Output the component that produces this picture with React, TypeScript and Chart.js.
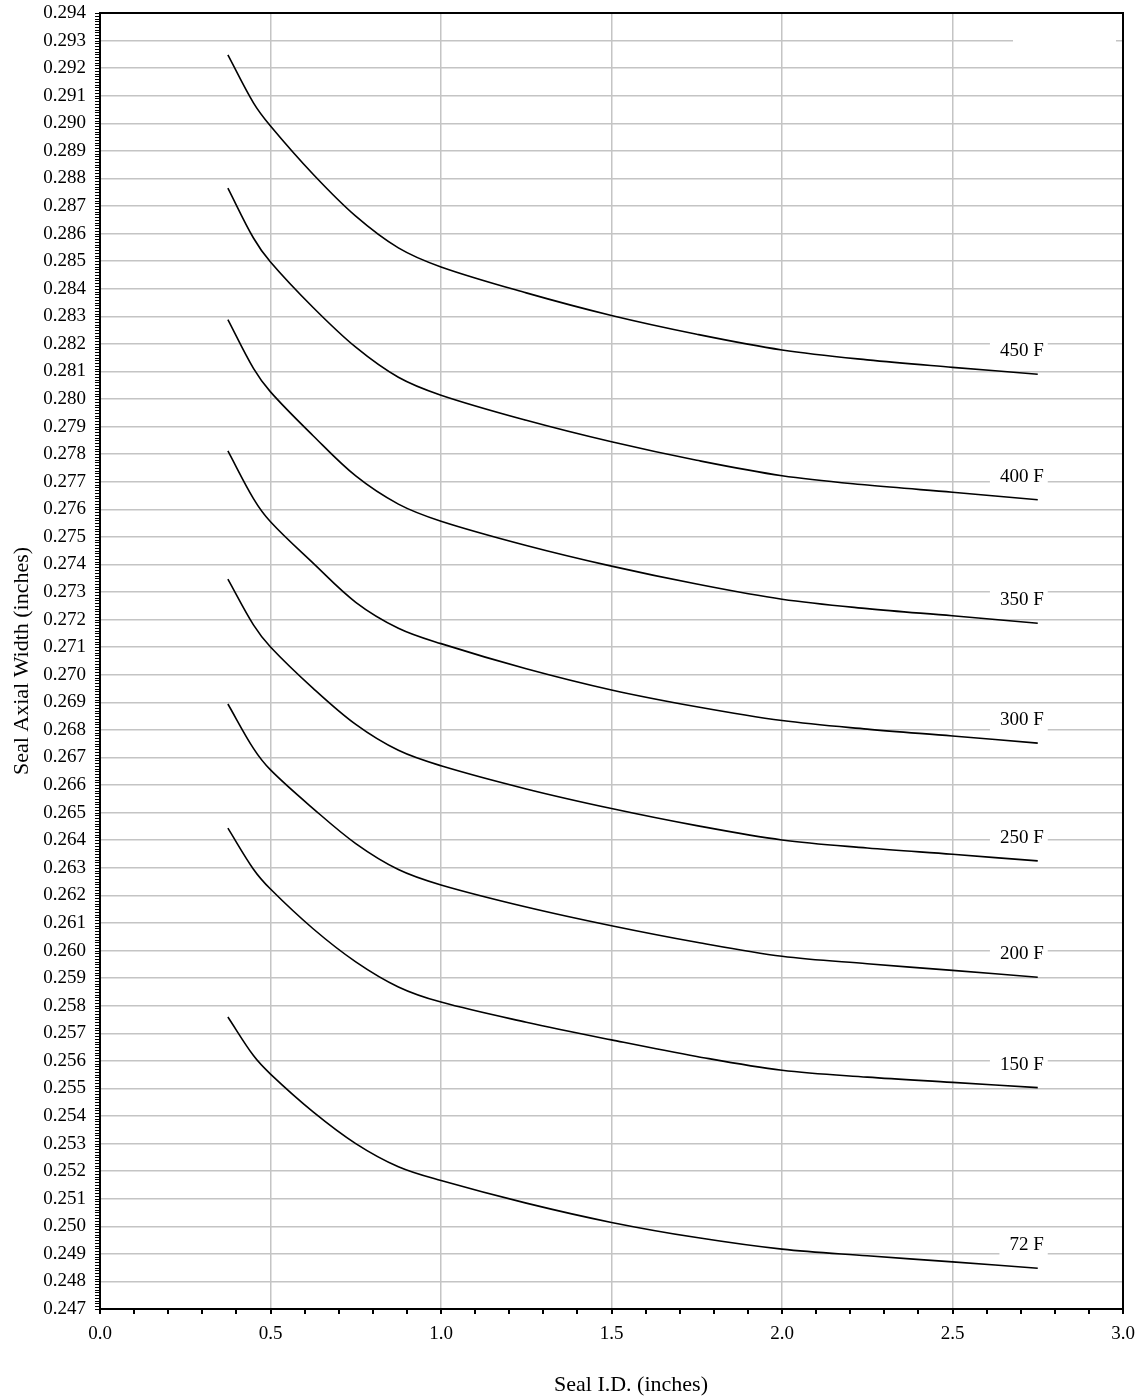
import React, { useEffect, useRef } from 'react';
import { Chart, registerables } from 'chart.js';

Chart.register(...registerables);

// Seal I.D. (inches)
const sealId = [0.375, 0.45, 0.5, 0.625, 0.75, 0.875, 1.0, 1.25, 1.5, 1.75, 2.0, 2.25, 2.5, 2.75];

// Seal axial width (inches) per temperature
const width450F = [0.29248, 0.29074, 0.2899, 0.28815, 0.28663, 0.28548, 0.28479, 0.28385, 0.28303, 0.28235, 0.28178, 0.28142, 0.28115, 0.2809];
const width400F = [0.28765, 0.28584, 0.28497, 0.28332, 0.28188, 0.28079, 0.28014, 0.27923, 0.27845, 0.27778, 0.27722, 0.27688, 0.27662, 0.27635];
const width350F = [0.28288, 0.28111, 0.28026, 0.27867, 0.27721, 0.27619, 0.27557, 0.27469, 0.27394, 0.27329, 0.27274, 0.2724, 0.27214, 0.27187];
const width300F = [0.27812, 0.27639, 0.27555, 0.27405, 0.27263, 0.27169, 0.27113, 0.27022, 0.26945, 0.26884, 0.26834, 0.26803, 0.26778, 0.26752];
const width250F = [0.27347, 0.27181, 0.27101, 0.26951, 0.2682, 0.26726, 0.2667, 0.26586, 0.26515, 0.26453, 0.26401, 0.26372, 0.26349, 0.26325];
const width200F = [0.26894, 0.26733, 0.26655, 0.26515, 0.26388, 0.26294, 0.26238, 0.26158, 0.2609, 0.2603, 0.25979, 0.25952, 0.25928, 0.25903];
const width150F = [0.26444, 0.26295, 0.26223, 0.26079, 0.25959, 0.25868, 0.25813, 0.2574, 0.25676, 0.25616, 0.25566, 0.25541, 0.25522, 0.25503];
const width72F = [0.25759, 0.25619, 0.25552, 0.25415, 0.253, 0.25216, 0.25166, 0.25084, 0.25014, 0.24959, 0.24917, 0.24893, 0.24871, 0.24848];

const seriesLabels = ['450 F', '400 F', '350 F', '300 F', '250 F', '200 F', '150 F', '72 F'];
const seriesValues = [width450F, width400F, width350F, width300F, width250F, width200F, width150F, width72F];

const yMin = 0.247;
const yMax = 0.294;
const yStep = 0.001;
const yMinorStep = 0.0001;
const xMin = 0;
const xMax = 3;
const xStep = 0.5;
const xMinorStep = 0.1;

const xTitle = 'Seal I.D. (inches)';
const yTitle = 'Seal Axial Width (inches)';

const FONT = '"Liberation Serif", "Times New Roman", serif';
const GRID = '#c4c4c4';

const decorPlugin = {
  id: 'decor',
  beforeDatasetsDraw(chart: any) {
    const { ctx } = chart;
    // blank (empty legend) area hiding part of a gridline, top right
    ctx.save();
    ctx.fillStyle = '#ffffff';
    ctx.fillRect(1013, 31, 103, 20);
    ctx.restore();
  },
  afterDatasetsDraw(chart: any) {
    const { ctx } = chart;
    ctx.save();
    ctx.font = `19px ${FONT}`;
    chart.data.datasets.forEach((ds: any, i: number) => {
      const meta = chart.getDatasetMeta(i);
      const pt = meta.data[meta.data.length - 1];
      if (!pt) return;
      const text = ds.label;
      const w = ctx.measureText(text).width;
      const right = pt.x + 6;
      const cy = pt.y - 23;
      ctx.fillStyle = '#ffffff';
      ctx.fillRect(right - w - 10, cy - 11, w + 14, 22);
      ctx.fillStyle = '#000000';
      ctx.textAlign = 'right';
      ctx.textBaseline = 'middle';
      ctx.fillText(text, right, cy);
    });
    ctx.restore();
  },
  afterDraw(chart: any) {
    const { ctx, chartArea: a, scales } = chart;
    const xs = scales.x;
    const ys = scales.y;
    ctx.save();
    // frame top and right
    ctx.strokeStyle = '#000000';
    ctx.lineWidth = 2;
    ctx.beginPath();
    ctx.moveTo(a.left, a.top);
    ctx.lineTo(a.right, a.top);
    ctx.lineTo(a.right, a.bottom);
    ctx.stroke();
    // y minor ticks
    ctx.lineWidth = 1;
    ctx.beginPath();
    const nY = Math.round((yMax - yMin) / yMinorStep);
    for (let i = 0; i <= nY; i++) {
      const py = Math.round(ys.getPixelForValue(yMin + i * yMinorStep)) + 0.5;
      ctx.moveTo(a.left - 5, py);
      ctx.lineTo(a.left, py);
    }
    ctx.stroke();
    // x minor ticks
    ctx.lineWidth = 2;
    ctx.beginPath();
    const nX = Math.round((xMax - xMin) / xMinorStep);
    for (let i = 0; i <= nX; i++) {
      const px = Math.round(xs.getPixelForValue(xMin + i * xMinorStep));
      ctx.moveTo(px, a.bottom);
      ctx.lineTo(px, a.bottom + 5);
    }
    ctx.stroke();
    // axis titles
    ctx.fillStyle = '#000000';
    ctx.font = `22px ${FONT}`;
    ctx.textAlign = 'center';
    ctx.textBaseline = 'middle';
    ctx.fillText(xTitle, 631, 1385);
    ctx.translate(22, (a.top + a.bottom) / 2);
    ctx.rotate(-Math.PI / 2);
    ctx.fillText(yTitle, 0, 0);
    ctx.restore();
  },
};

export default function App() {
  const ref = useRef<HTMLCanvasElement | null>(null);

  useEffect(() => {
    if (!ref.current) return;
    const datasets = seriesLabels.map((label, i) => ({
      label,
      data: sealId.map((x, j) => ({ x, y: seriesValues[i][j] })),
      borderColor: '#000000',
      backgroundColor: '#000000',
      borderWidth: 1.6,
      pointRadius: 0,
      fill: false,
      tension: 0.35,
    }));
    const chart = new Chart(ref.current, {
      type: 'line',
      data: { datasets },
      plugins: [decorPlugin],
      options: {
        animation: false,
        responsive: false,
        maintainAspectRatio: false,
        layout: { padding: { top: 13, right: 21, left: 0, bottom: 0 } },
        plugins: {
          legend: { display: false },
          tooltip: { enabled: false },
          title: { display: false },
        },
        scales: {
          x: {
            type: 'linear',
            min: xMin,
            max: xMax,
            afterFit: (s: any) => {
              s.height = 91;
              s.paddingLeft = 0;
              s.paddingRight = 0;
              s.paddingTop = 0;
              s.paddingBottom = 0;
            },
            ticks: {
              stepSize: xStep,
              padding: 14,
              color: '#000000',
              font: { family: FONT, size: 19 },
              callback: (v: any) => Number(v).toFixed(1),
              maxRotation: 0,
              autoSkip: false,
            },
            grid: { color: GRID, lineWidth: 1.5, drawTicks: false },
            border: { display: true, color: '#000000', width: 2 },
          },
          y: {
            type: 'linear',
            min: yMin,
            max: yMax,
            afterFit: (s: any) => {
              s.width = 100;
              s.paddingLeft = 0;
              s.paddingRight = 0;
              s.paddingTop = 0;
              s.paddingBottom = 0;
            },
            ticks: {
              stepSize: yStep,
              padding: 14,
              color: '#000000',
              font: { family: FONT, size: 19 },
              callback: (v: any) => Number(v).toFixed(3),
              autoSkip: false,
            },
            grid: { color: GRID, lineWidth: 1.5, drawTicks: false },
            border: { display: true, color: '#000000', width: 2 },
          },
        },
      },
    });
    return () => chart.destroy();
  }, []);

  return (
    <canvas
      ref={ref}
      width={1144}
      height={1400}
      style={{ position: 'absolute', left: 0, top: 0, width: 1144, height: 1400, background: '#ffffff' }}
    />
  );
}
